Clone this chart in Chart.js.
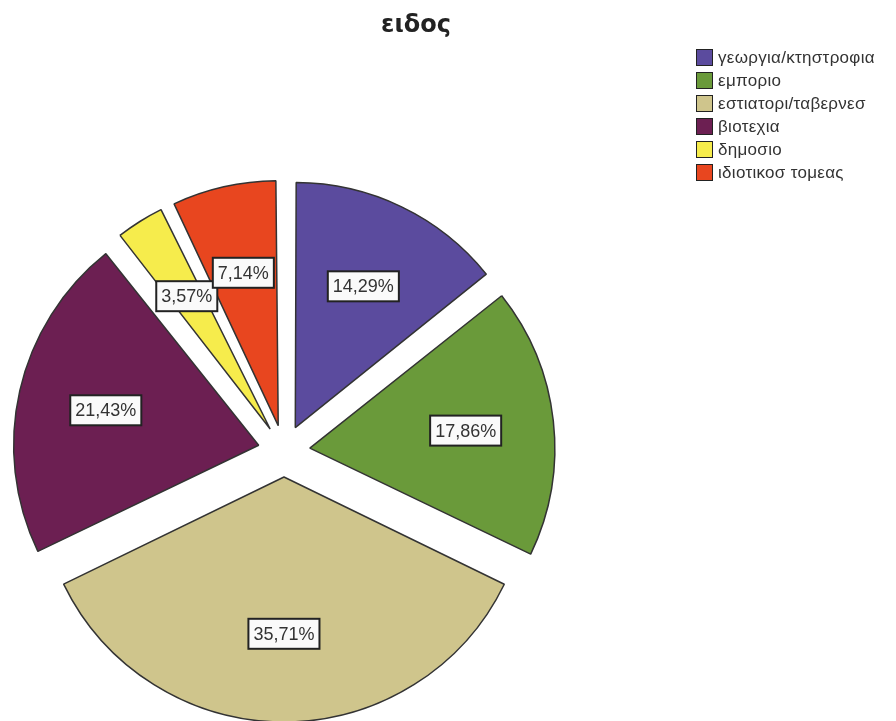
<!DOCTYPE html>
<html>
<head>
<meta charset="utf-8">
<script src="https://cdn.jsdelivr.net/npm/chart.js@4.4.1/dist/chart.umd.min.js"></script>
<style>
  html, body { margin: 0; padding: 0; background: #fff; }
  #wrap { position: relative; width: 896px; height: 721px; }
  #title { position: absolute; left: 316px; width: 200px; top: 10px; text-align: center;
           font: bold 24px "DejaVu Sans", sans-serif; color: #222; }
  #legend { position: absolute; left: 696px; top: 46px; font: 17px "Liberation Sans", Arial, sans-serif;
            color: #333; letter-spacing: 0.3px; }
  .row { height: 23px; display: flex; align-items: center; }
  .sw { width: 15px; height: 15px; border: 1px solid #222; margin-right: 5px; }
</style>
</head>
<body>
<div id="wrap">
  <canvas id="myChart" width="896" height="721"></canvas>
  <div id="title">ειδος</div>
  <div id="legend"></div>
</div>
<script>
var categories = ["γεωργια/κτηστροφια", "εμποριο", "εστιατορι/ταβερνεσ", "βιοτεχια", "δημοσιο", "ιδιοτικοσ τομεας"];
var percents = [14.29, 17.86, 35.71, 21.43, 3.57, 7.14];
var colors = ["#5B4B9E", "#6A9A3A", "#CFC58C", "#6C1F52", "#F6EC4C", "#E8461F"];

var pieRadius = 245;
var explode = 26;

// legend in html
var leg = document.getElementById('legend');
categories.forEach(function(c, i) {
  var row = document.createElement('div');
  row.className = 'row';
  row.innerHTML = '<div class="sw" style="background:' + colors[i] + '"></div><span>' + c + '</span>';
  leg.appendChild(row);
});

// chart.js grows small exploded slices a bit, undo that so all slices keep the same radius
var evenRadius = {
  id: 'evenRadius',
  afterDatasetUpdate: function(chart, args) {
    args.meta.data.forEach(function(arc) {
      var circ = arc.endAngle - arc.startAngle;
      var fix = 1 - Math.sin(Math.min(Math.PI, circ));
      arc.outerRadius = pieRadius - explode * fix;
    });
  }
};

// boxed percentage labels
var boxLabels = {
  id: 'boxLabels',
  afterDatasetsDraw: function(chart) {
    var ctx = chart.ctx;
    var meta = chart.getDatasetMeta(0);
    ctx.save();
    ctx.font = '18px "Liberation Sans", Arial, sans-serif';
    ctx.textAlign = 'center';
    ctx.textBaseline = 'middle';
    meta.data.forEach(function(arc, i) {
      var mid = (arc.startAngle + arc.endAngle) / 2;
      var d = explode + pieRadius * 0.64;
      var x = arc.x + Math.cos(mid) * d;
      var y = arc.y + Math.sin(mid) * d;
      var txt = percents[i].toFixed(2).replace('.', ',') + '%';
      var w = ctx.measureText(txt).width + 10;
      var h = 30;
      ctx.fillStyle = '#fafafa';
      ctx.fillRect(x - w / 2, y - h / 2, w, h);
      ctx.strokeStyle = '#222';
      ctx.lineWidth = 2;
      ctx.strokeRect(x - w / 2, y - h / 2, w, h);
      ctx.fillStyle = '#333';
      ctx.fillText(txt, x, y + 1);
    });
    ctx.restore();
  }
};

var ctx = document.getElementById('myChart').getContext('2d');
var myChart = new Chart(ctx, {
  type: 'pie',
  data: {
    labels: categories,
    datasets: [{
      data: percents,
      backgroundColor: colors,
      borderColor: '#333',
      borderWidth: 1.5,
      offset: explode * 4,   // arc draws offset/4
      radius: pieRadius
    }]
  },
  options: {
    responsive: false,
    animation: false,
    layout: { padding: { left: 0, right: 328, top: 181, bottom: 0 } },
    plugins: {
      legend: { display: false },
      title: { display: false },
      tooltip: { enabled: false }
    }
  },
  plugins: [evenRadius, boxLabels]
});
</script>
</body>
</html>
